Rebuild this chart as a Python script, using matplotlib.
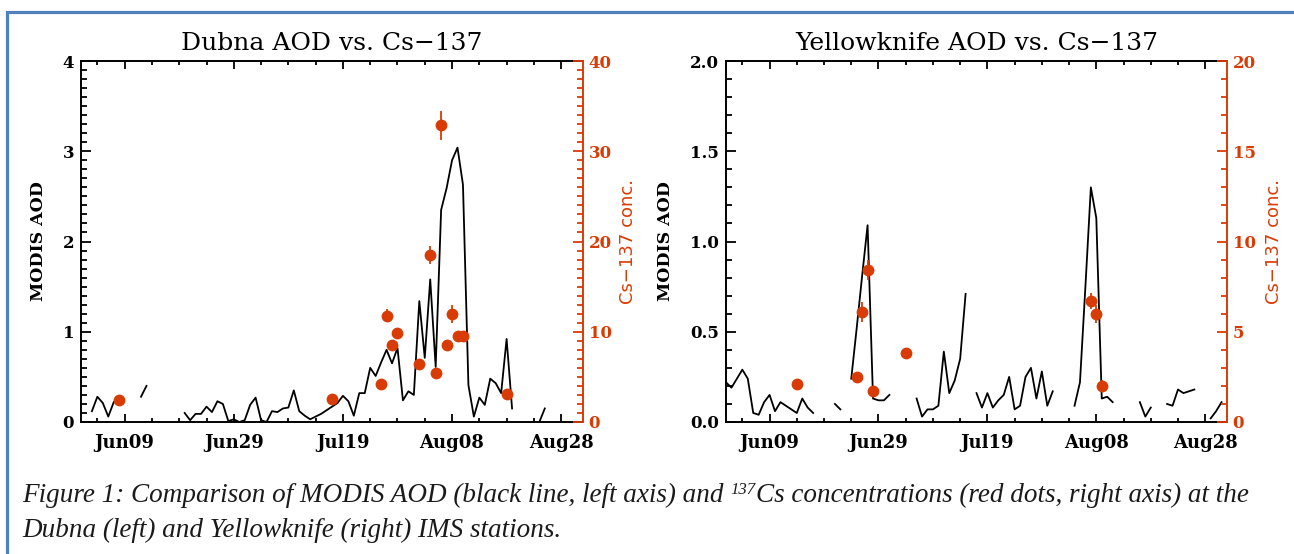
import numpy as np
import matplotlib
matplotlib.use('Agg')
import matplotlib.pyplot as plt
from matplotlib.ticker import MultipleLocator, FixedLocator, FormatStrFormatter
from matplotlib.lines import Line2D

nan = np.nan
RED = '#D93B05'
FRAME_BLUE = '#4F81BD'

# Days counted from 1 June
days = np.arange(92)
tick_days = [8, 28, 48, 68, 88]
tick_labels = ['Jun09', 'Jun29', 'Jul19', 'Aug08', 'Aug28']

# Daily MODIS AOD over Dubna (nan = no retrieval)
dubna_aod = [
    nan, nan, 0.12, 0.28, 0.21, 0.06, 0.22, nan, nan, nan,
    nan, 0.28, 0.40, nan, nan, nan, nan, nan, nan, 0.10,
    0.02, 0.09, 0.09, 0.17, 0.11, 0.23, 0.20, 0.01, 0.03, 0.00,
    0.02, 0.19, 0.27, 0.02, 0.00, 0.12, 0.11, 0.15, 0.16, 0.35,
    0.12, 0.07, 0.03, 0.06, 0.09, 0.13, 0.17, 0.21, 0.29, 0.23,
    0.07, 0.32, 0.32, 0.60, 0.51, 0.66, 0.80, 0.65, 0.82, 0.24,
    0.34, 0.30, 1.34, 0.71, 1.58, 0.61, 2.35, 2.59, 2.90, 3.04,
    2.63, 0.41, 0.06, 0.27, 0.19, 0.48, 0.43, 0.32, 0.92, 0.15,
    nan, nan, nan, nan, 0.00, 0.15, nan, nan, nan, nan,
    nan, nan,
]

# Cs-137 samples at Dubna
dubna_cs_days = [7, 46, 55, 56, 57, 58, 62, 64, 65, 66, 67, 68, 69, 70, 78]
dubna_cs = [2.4, 2.6, 4.2, 11.8, 8.5, 9.9, 6.4, 18.5, 5.4, 32.9, 8.5, 12.0, 9.5, 9.5, 3.1]
dubna_cs_err = [0.2, 0.2, 0.3, 0.7, 0.4, 0.5, 0.4, 1.0, 0.3, 1.6, 0.4, 1.0, 0.4, 0.4, 0.3]

# Daily MODIS AOD over Yellowknife
yk_aod = [
    0.22, 0.19, 0.24, 0.29, 0.24, 0.05, 0.04, 0.11, 0.15, 0.06,
    0.11, 0.09, 0.07, 0.05, 0.13, 0.08, 0.05, nan, nan, nan,
    0.10, 0.07, nan, 0.24, 0.52, 0.81, 1.09, 0.13, 0.12, 0.12,
    0.15, nan, nan, nan, nan, 0.13, 0.03, 0.07, 0.07, 0.09,
    0.39, 0.16, 0.23, 0.35, 0.71, nan, 0.16, 0.08, 0.16, 0.08,
    0.12, 0.15, 0.25, 0.07, 0.09, 0.25, 0.30, 0.13, 0.28, 0.09,
    0.17, nan, nan, nan, 0.09, 0.22, 0.75, 1.30, 1.13, 0.13,
    0.14, 0.11, nan, nan, nan, nan, 0.11, 0.03, 0.08, nan,
    nan, 0.10, 0.09, 0.18, 0.16, 0.17, 0.18, nan, nan, 0.02,
    0.06, 0.11,
]

# Cs-137 samples at Yellowknife
yk_cs_days = [13, 24, 25, 26, 27, 33, 67, 68, 69]
yk_cs = [2.1, 2.5, 6.1, 8.4, 1.7, 3.8, 6.7, 6.0, 2.0]
yk_cs_err = [0.15, 0.2, 0.55, 0.55, 0.15, 0.25, 0.45, 0.5, 0.3]

plt.rcParams['font.family'] = 'DejaVu Serif'
plt.rcParams['font.weight'] = 'bold'

W, H = 1294, 554
fig = plt.figure(figsize=(W / 100, H / 100), dpi=100)


def px_rect(x0, x1, ytop, ybot):
    return [x0 / W, 1 - ybot / H, (x1 - x0) / W, (ybot - ytop) / H]


def panel(rect, title, aod, aod_max, aod_major, aod_fmt,
          cs_days, cs, cs_err, cs_max, cs_major, ylab_x, rlab_x):
    ax = fig.add_axes(rect)
    ax.plot(days, np.asarray(aod, float), color='black', lw=1.3)
    ax.set_xlim(0, 92)
    ax.set_ylim(0, aod_max)
    ax.xaxis.set_major_locator(FixedLocator(tick_days))
    ax.set_xticklabels(tick_labels)
    ax.xaxis.set_minor_locator(FixedLocator(np.arange(3, 92, 5)))
    ax.yaxis.set_major_locator(MultipleLocator(aod_major))
    ax.yaxis.set_minor_locator(MultipleLocator(0.1))
    ax.yaxis.set_major_formatter(FormatStrFormatter(aod_fmt))
    ax.tick_params(which='both', direction='in', top=True, right=False,
                   width=1.3, color='black')
    ax.tick_params(axis='x', which='major', length=6, pad=9, labelsize=13)
    ax.tick_params(axis='x', which='minor', length=3)
    ax.tick_params(axis='y', which='major', length=7, pad=5, labelsize=12)
    ax.tick_params(axis='y', which='minor', length=4)
    for s in ax.spines.values():
        s.set_linewidth(1.4)
    ax.spines['right'].set_visible(False)
    ax.set_title(title, fontsize=18, fontweight='normal', pad=8)
    ax.set_ylabel('MODIS AOD', fontsize=12.5, fontweight='bold', va='center')
    ax.yaxis.set_label_coords(ylab_x, 0.5)

    ax2 = ax.twinx()
    ax2.errorbar(cs_days, cs, yerr=cs_err, fmt='o', color=RED, ms=8.5,
                 capsize=2.5, elinewidth=1.3, capthick=1.3, mew=0)
    ax2.set_ylim(0, cs_max)
    ax2.yaxis.set_major_locator(MultipleLocator(cs_major))
    ax2.yaxis.set_minor_locator(MultipleLocator(1))
    for side in ('left', 'top', 'bottom'):
        ax2.spines[side].set_visible(False)
    ax2.spines['right'].set_color(RED)
    ax2.spines['right'].set_linewidth(1.4)
    ax2.tick_params(which='both', direction='in', color=RED, labelcolor=RED,
                    width=1.3)
    ax2.tick_params(which='major', length=7, pad=4, labelsize=12)
    ax2.tick_params(which='minor', length=4)
    ax2.set_ylabel('Cs\u2212137 conc.', color=RED, fontsize=13,
                   fontfamily='DejaVu Sans', fontweight='normal',
                   rotation=90, va='center')
    ax2.yaxis.set_label_coords(rlab_x, 0.5)
    return ax, ax2


panel(px_rect(81, 583, 61, 422), 'Dubna AOD vs. Cs\u2212137',
      dubna_aod, 4, 1, '%d', dubna_cs_days, dubna_cs, dubna_cs_err, 40, 10,
      -0.085, 1.090)
panel(px_rect(726, 1227, 61, 422), 'Yellowknife AOD vs. Cs\u2212137',
      yk_aod, 2.0, 0.5, '%.1f', yk_cs_days, yk_cs, yk_cs_err, 20, 5,
      -0.121, 1.094)

# Text-box frame along the top and left edges
fig.add_artist(Line2D([7 / W, 7 / W, 1.0], [0.0, 1 - 12 / H, 1 - 12 / H],
                      transform=fig.transFigure, color=FRAME_BLUE, lw=2.3,
                      solid_joinstyle='miter'))

# Caption, with the isotope mass number set as a superscript
CAP_SIZE = 19.5
cap_kw = dict(fontfamily='Liberation Serif', fontstyle='italic',
              fontweight='normal', va='baseline', ha='left', color='#1a1a1a')
renderer = fig.canvas.get_renderer()
line1_y = 1 - 502 / H
space_px = 0.25 * CAP_SIZE * 100 / 72

t1 = fig.text(22 / W, line1_y,
              'Figure 1: Comparison of MODIS AOD (black line, left axis) and',
              fontsize=CAP_SIZE, **cap_kw)
x_px = t1.get_window_extent(renderer).x1 + space_px
t2 = fig.text(x_px / W, line1_y + 8 / H, '137', fontsize=CAP_SIZE * 0.62, **cap_kw)
x_px = t2.get_window_extent(renderer).x1 + 1
fig.text(x_px / W, line1_y,
         'Cs concentrations (red dots, right axis) at the',
         fontsize=CAP_SIZE, **cap_kw)
fig.text(22 / W, 1 - 537 / H,
         'Dubna (left) and Yellowknife (right) IMS stations.',
         fontsize=CAP_SIZE, **cap_kw)

fig.savefig('out.png', dpi=100)
